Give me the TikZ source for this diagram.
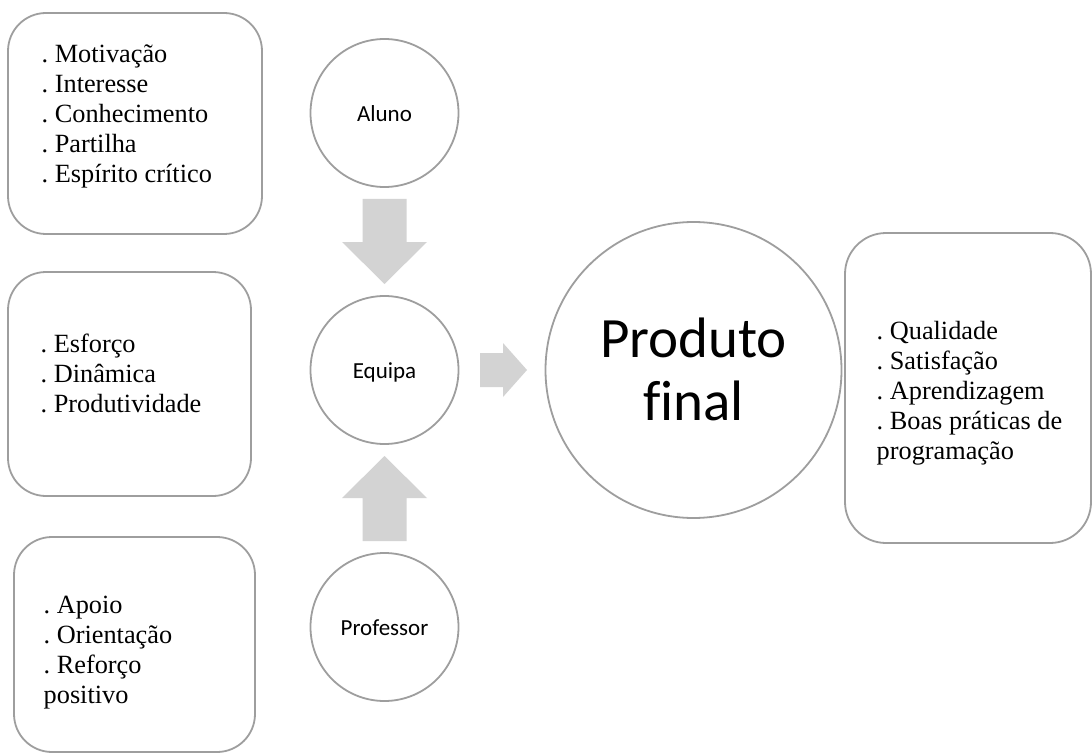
\documentclass[tikz,border=0pt]{standalone}
\usepackage{fontspec}
\setmainfont{Liberation Serif}
\newfontfamily\labelfont[Ligatures=NoCommon]{Carlito}
\usetikzlibrary{calc}
\frenchspacing

\definecolor{rim}{RGB}{158,158,158}
\definecolor{arrowfill}{RGB}{211,211,211}

\tikzset{
  listbox/.style={draw=rim, line width=1.8pt, rounded corners=#1, inner sep=0pt, fill=white},
  listbox/.default=38pt,
  listtext/.style={anchor=west, inner sep=0pt, align=left,
    font=\fontsize{26.3}{30}\selectfont},
  ring/.style={circle, draw=rim, line width=1.8pt, inner sep=0pt, fill=white},
  ringtext/.style={anchor=base, inner sep=0pt,
    font=\labelfont\fontsize{23}{28}\selectfont},
  blockarrow/.style={fill=arrowfill, draw=none}
}

\begin{document}
\begin{tikzpicture}[x=1pt,y=-1pt]
\useasboundingbox (0,0) rectangle (1092,754);

% attribute boxes on the left
\node[listbox, minimum width=254pt, minimum height=221pt] (b1) at (135,123.5) {};
\node[listtext] (t1) at (41.5,116)
  {. Motivação\\. Interesse\\. Conhecimento\\. Partilha\\. Espírito crítico};

\node[listbox, minimum width=243pt, minimum height=224pt] (b2) at (129.5,384) {};
\node[listtext] (t2) at (40.5,373)
  {. Esforço\\. Dinâmica\\. Produtividade};

\node[listbox, minimum width=241pt, minimum height=215pt] (b3) at (134.5,644.5) {};
\node[listtext] (t3) at (43.5,653)
  {. Apoio\\. Orientação\\. Reforço\\positivo};

% result box on the right
\node[listbox=41pt, minimum width=246pt, minimum height=310pt] (b4) at (968,388) {};
\node[listtext] (t4) at (876.5,393)
  {. Qualidade\\. Satisfação\\. Aprendizagem\\. Boas práticas de\\programação};

% actors
\node[ring, minimum size=148pt] (aluno) at (384.5,113) {};
\node[ringtext] (aluno-t) at (384.5,122) {Aluno};

\node[ring, minimum size=148pt] (equipa) at (384.5,370) {};
\node[ringtext] (equipa-t) at (384.5,378) {Equipa};

\node[ring, minimum size=148pt] (prof) at (384.5,627) {};
\node[ringtext] (prof-t) at (384.5,635) {Professor};

\node[ring, minimum size=296pt] (produto) at (693.5,370) {};
\node[anchor=center, inner sep=0pt, align=center,
  font=\labelfont\fontsize{57}{63}\selectfont] (produto-t) at (693.5,369.5)
  {Produto\\final};

% block arrows between the actors
\path (aluno.south) -- (equipa.north) coordinate[pos=0.5] (m1);
\path (prof.north) -- (equipa.south) coordinate[pos=0.5] (m2);
\path (equipa.east) -- (produto.west) coordinate[pos=0.5] (m3);

\fill[blockarrow] ($(m1)+(-22,-42.5)$) -- ($(m1)+(22,-42.5)$) -- ($(m1)+(22,0.5)$)
  -- ($(m1)+(42.5,0.5)$) -- ($(m1)+(0,42.5)$) -- ($(m1)+(-42.5,0.5)$)
  -- ($(m1)+(-22,0.5)$) -- cycle;

\fill[blockarrow] ($(m2)+(-22,42.5)$) -- ($(m2)+(22,42.5)$) -- ($(m2)+(22,-0.5)$)
  -- ($(m2)+(42.5,-0.5)$) -- ($(m2)+(0,-42.5)$) -- ($(m2)+(-42.5,-0.5)$)
  -- ($(m2)+(-22,-0.5)$) -- cycle;

\fill[blockarrow] ($(m3)+(-22,-17)$) -- ($(m3)+(1,-17)$) -- ($(m3)+(1,-27)$)
  -- ($(m3)+(25,0)$) -- ($(m3)+(1,27)$) -- ($(m3)+(1,17)$)
  -- ($(m3)+(-22,17)$) -- cycle;
\end{tikzpicture}
\end{document}
